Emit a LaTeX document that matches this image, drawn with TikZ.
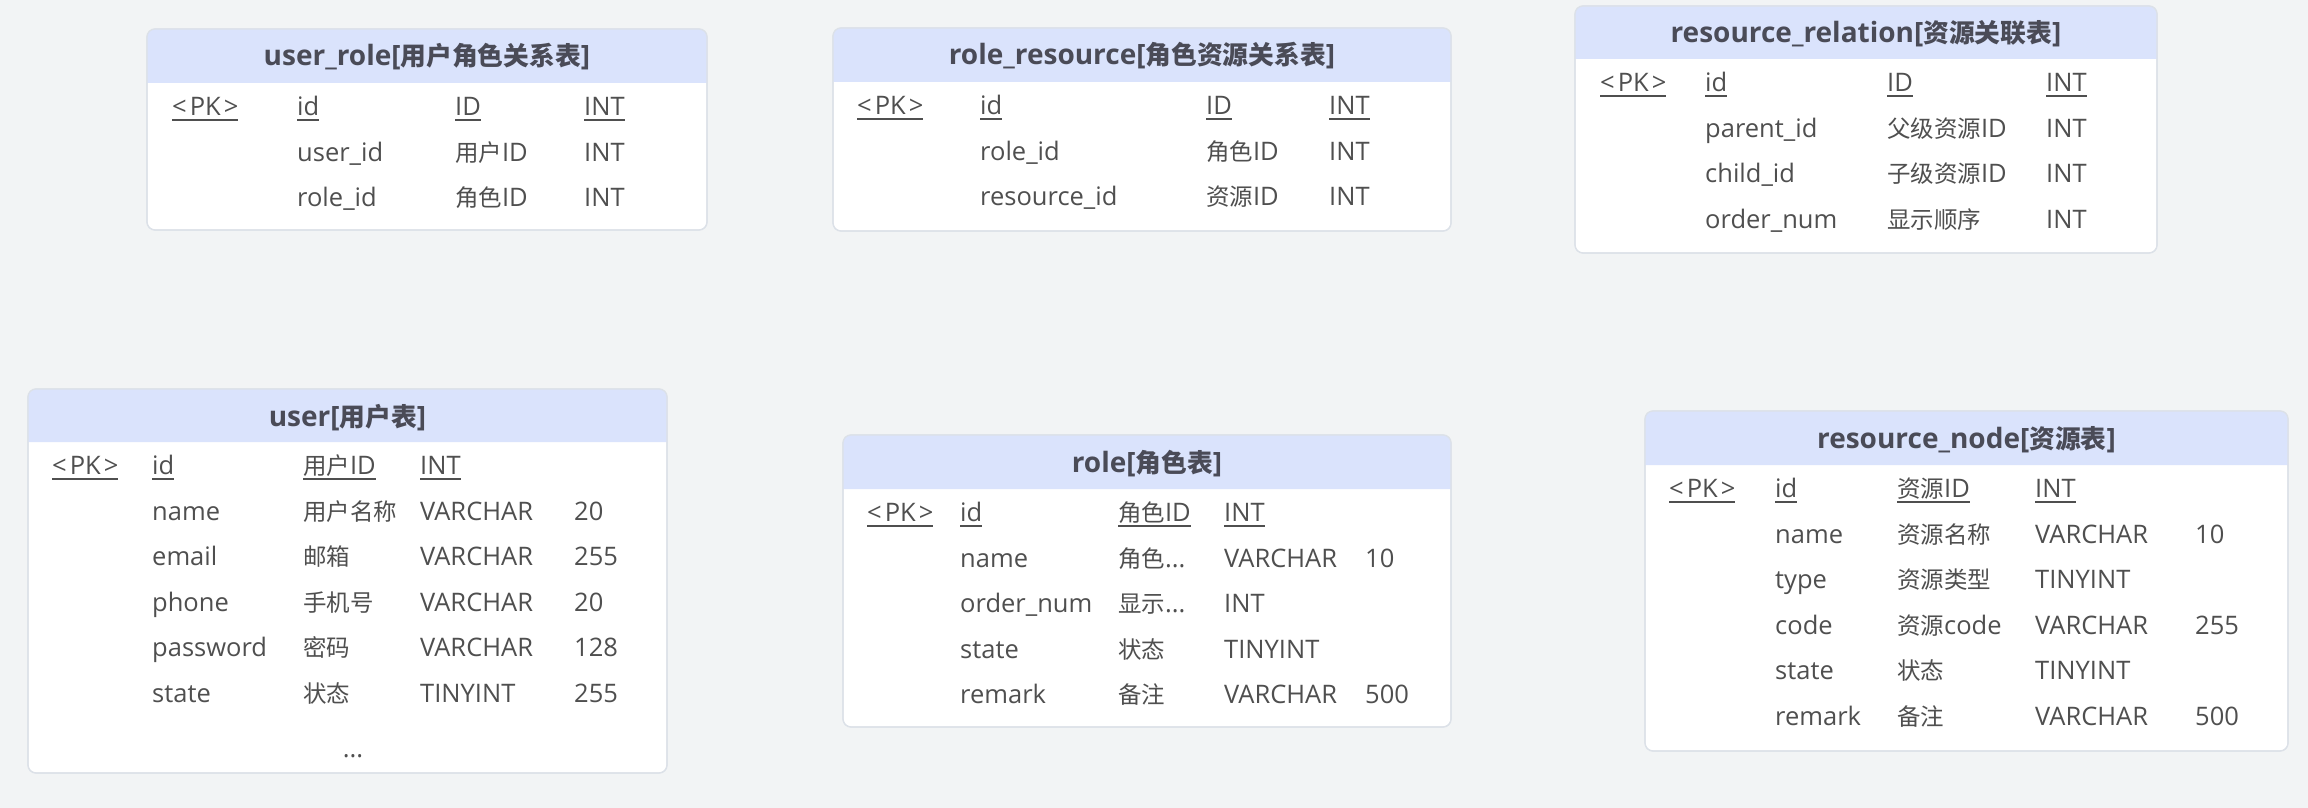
\documentclass[tikz,border=0pt]{standalone}
\usepackage{fontspec}
\setmainfont{Open Sans}
\newfontfamily\cjk{Noto Sans CJK SC}[Scale=0.92]
\newcommand\zh[1]{{\cjk #1}}
\newcommand\ulx[1]{\setbox0\hbox{#1}\rlap{\rule[-5pt]{\wd0}{1.8pt}}\box0}
\newcommand\pkmark{\ulx{<\kern3pt PK\kern3pt>}}
\definecolor{bgcol}{HTML}{F2F4F5}
\definecolor{hdrcol}{HTML}{DAE3FC}
\definecolor{bordercol}{HTML}{DCE1E8}
\definecolor{txtcol}{HTML}{4F4F4F}
\definecolor{titlecol}{HTML}{4A4B57}
\tikzset{
  tblbox/.style={fill=white, draw=bordercol, line width=1.2pt, rounded corners=8pt, inner sep=0pt, outer sep=0pt},
  hdrfill/.style={fill=hdrcol},
  cell/.style={anchor=base west, inner sep=0pt, text=txtcol, font=\fontsize{25.5}{30}\selectfont},
  tabletitle/.style={anchor=base, inner sep=0pt, text=titlecol, font=\fontsize{28}{32}\selectfont\bfseries},
}
\newcommand\ertable[7]{%
  \node[tblbox, anchor=north west, minimum width={(#4-#2)*1pt}, minimum height={(#5-#3)*1pt}] (#1) at (#2,#3) {};
  \fill[hdrfill] (#2,#6) {[rounded corners=8pt] -- (#2,#3) -- (#4,#3)} -- (#4,#6) -- cycle;
  \draw[draw=bordercol, line width=1.2pt, rounded corners=8pt] (#1.north west) rectangle (#1.south east);
  \node[tabletitle] (#1-t) at ({(#2+#4)/2},{#3+37}) {#7};
}
\newcommand\fld[4]{\node[cell] (#1) at (#2,{#3+1.5}) {#4};}
\begin{document}
\begin{tikzpicture}[x=1pt,y=-1pt]
\fill[bgcol] (0,0) rectangle (2308,808);
\useasboundingbox (0,0) rectangle (2308,808);

% user_role
\ertable{ur}{147}{29}{707}{230}{83}{user\_role[\zh{用户角色关系表}]}
\fld{ur-a1}{172}{114}{\pkmark}
\fld{ur-b1}{297}{114}{\ulx{id}}
\fld{ur-c1}{455}{114}{\ulx{ID}}
\fld{ur-d1}{584}{114}{\ulx{INT}}
\fld{ur-b2}{297}{159.5}{user\_id}
\fld{ur-c2}{455}{159.5}{\zh{用户}ID}
\fld{ur-d2}{584}{159.5}{INT}
\fld{ur-b3}{297}{205}{role\_id}
\fld{ur-c3}{455}{205}{\zh{角色}ID}
\fld{ur-d3}{584}{205}{INT}

% role_resource
\ertable{rr}{833}{28}{1451}{231}{82}{role\_resource[\zh{角色资源关系表}]}
\fld{rr-a1}{857}{113}{\pkmark}
\fld{rr-b1}{980}{113}{\ulx{id}}
\fld{rr-c1}{1206}{113}{\ulx{ID}}
\fld{rr-d1}{1329}{113}{\ulx{INT}}
\fld{rr-b2}{980}{158.5}{role\_id}
\fld{rr-c2}{1206}{158.5}{\zh{角色}ID}
\fld{rr-d2}{1329}{158.5}{INT}
\fld{rr-b3}{980}{204}{resource\_id}
\fld{rr-c3}{1206}{204}{\zh{资源}ID}
\fld{rr-d3}{1329}{204}{INT}

% resource_relation
\ertable{rl}{1575}{6}{2157}{253}{59}{resource\_relation[\zh{资源关联表}]}
\fld{rl-a1}{1600}{90}{\pkmark}
\fld{rl-b1}{1705}{90}{\ulx{id}}
\fld{rl-c1}{1887}{90}{\ulx{ID}}
\fld{rl-d1}{2046}{90}{\ulx{INT}}
\fld{rl-b2}{1705}{135.5}{parent\_id}
\fld{rl-c2}{1887}{135.5}{\zh{父级资源}ID}
\fld{rl-d2}{2046}{135.5}{INT}
\fld{rl-b3}{1705}{181}{child\_id}
\fld{rl-c3}{1887}{181}{\zh{子级资源}ID}
\fld{rl-d3}{2046}{181}{INT}
\fld{rl-b4}{1705}{226.5}{order\_num}
\fld{rl-c4}{1887}{226.5}{\zh{显示顺序}}
\fld{rl-d4}{2046}{226.5}{INT}

% user
\ertable{us}{28}{389}{667}{773}{442}{user[\zh{用户表}]}
\fld{us-a1}{52}{473}{\pkmark}
\fld{us-b1}{152}{473}{\ulx{id}}
\fld{us-c1}{303}{473}{\ulx{\zh{用户}ID}}
\fld{us-d1}{420}{473}{\ulx{INT}}
\fld{us-b2}{152}{518.5}{name}
\fld{us-c2}{303}{518.5}{\zh{用户名称}}
\fld{us-d2}{420}{518.5}{VARCHAR}
\fld{us-e2}{574}{518.5}{20}
\fld{us-b3}{152}{564}{email}
\fld{us-c3}{303}{564}{\zh{邮箱}}
\fld{us-d3}{420}{564}{VARCHAR}
\fld{us-e3}{574}{564}{255}
\fld{us-b4}{152}{609.5}{phone}
\fld{us-c4}{303}{609.5}{\zh{手机号}}
\fld{us-d4}{420}{609.5}{VARCHAR}
\fld{us-e4}{574}{609.5}{20}
\fld{us-b5}{152}{655}{password}
\fld{us-c5}{303}{655}{\zh{密码}}
\fld{us-d5}{420}{655}{VARCHAR}
\fld{us-e5}{574}{655}{128}
\fld{us-b6}{152}{700.5}{state}
\fld{us-c6}{303}{700.5}{\zh{状态}}
\fld{us-d6}{420}{700.5}{TINYINT}
\fld{us-e6}{574}{700.5}{255}
\node[cell, anchor=base] (us-dots) at (353,757) {...};

% role
\ertable{ro}{843}{435}{1451}{727}{489}{role[\zh{角色表}]}
\fld{ro-a1}{867}{520}{\pkmark}
\fld{ro-b1}{960}{520}{\ulx{id}}
\fld{ro-c1}{1118}{520}{\ulx{\zh{角色}ID}}
\fld{ro-d1}{1224}{520}{\ulx{INT}}
\fld{ro-b2}{960}{565.5}{name}
\fld{ro-c2}{1118}{565.5}{\zh{角色}...}
\fld{ro-d2}{1224}{565.5}{VARCHAR}
\fld{ro-e2}{1365}{565.5}{10}
\fld{ro-b3}{960}{611}{order\_num}
\fld{ro-c3}{1118}{611}{\zh{显示}...}
\fld{ro-d3}{1224}{611}{INT}
\fld{ro-b4}{960}{656.5}{state}
\fld{ro-c4}{1118}{656.5}{\zh{状态}}
\fld{ro-d4}{1224}{656.5}{TINYINT}
\fld{ro-b5}{960}{702}{remark}
\fld{ro-c5}{1118}{702}{\zh{备注}}
\fld{ro-d5}{1224}{702}{VARCHAR}
\fld{ro-e5}{1365}{702}{500}

% resource_node
\ertable{rn}{1645}{411}{2288}{751}{465}{resource\_node[\zh{资源表}]}
\fld{rn-a1}{1669}{496}{\pkmark}
\fld{rn-b1}{1775}{496}{\ulx{id}}
\fld{rn-c1}{1897}{496}{\ulx{\zh{资源}ID}}
\fld{rn-d1}{2035}{496}{\ulx{INT}}
\fld{rn-b2}{1775}{541.5}{name}
\fld{rn-c2}{1897}{541.5}{\zh{资源名称}}
\fld{rn-d2}{2035}{541.5}{VARCHAR}
\fld{rn-e2}{2195}{541.5}{10}
\fld{rn-b3}{1775}{587}{type}
\fld{rn-c3}{1897}{587}{\zh{资源类型}}
\fld{rn-d3}{2035}{587}{TINYINT}
\fld{rn-b4}{1775}{632.5}{code}
\fld{rn-c4}{1897}{632.5}{\zh{资源}code}
\fld{rn-d4}{2035}{632.5}{VARCHAR}
\fld{rn-e4}{2195}{632.5}{255}
\fld{rn-b5}{1775}{678}{state}
\fld{rn-c5}{1897}{678}{\zh{状态}}
\fld{rn-d5}{2035}{678}{TINYINT}
\fld{rn-b6}{1775}{723.5}{remark}
\fld{rn-c6}{1897}{723.5}{\zh{备注}}
\fld{rn-d6}{2035}{723.5}{VARCHAR}
\fld{rn-e6}{2195}{723.5}{500}
\end{tikzpicture}
\end{document}
